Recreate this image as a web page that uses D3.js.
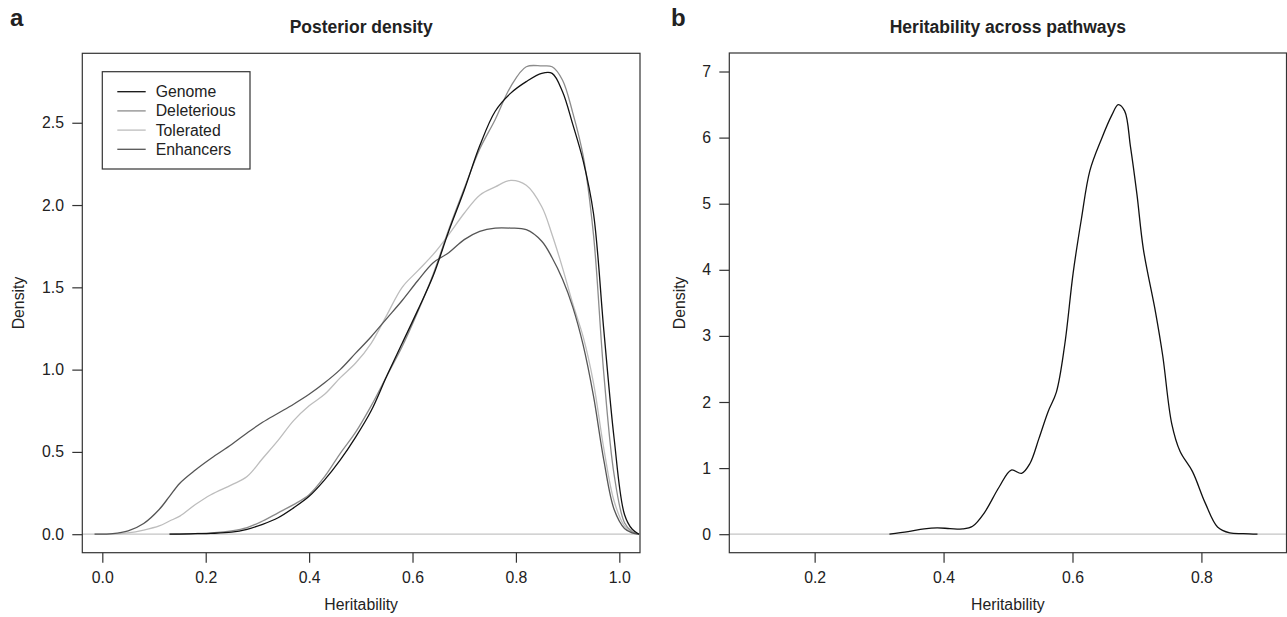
<!DOCTYPE html>
<html>
<head>
<meta charset="utf-8">
<script src="https://cdn.jsdelivr.net/npm/d3@7"></script>
<style>
  body { margin: 0; background: #fff; }
  text { font-family: "Liberation Sans", Arial, Helvetica, sans-serif; fill: #222; }
</style>
</head>
<body>
<div id="d3container"></div>
<script>
// panel a: posterior densities of heritability
var heritX = [-0.015, 0.02, 0.05, 0.08, 0.11, 0.13, 0.15, 0.18, 0.21, 0.25, 0.28, 0.31, 0.34, 0.37, 0.40, 0.43, 0.46, 0.49, 0.52, 0.55,
    0.58, 0.61, 0.64, 0.67, 0.70, 0.73, 0.76, 0.79, 0.82, 0.85, 0.87, 0.89, 0.91, 0.93, 0.95, 0.97, 0.99, 1.01, 1.025, 1.038];
var genome = [null, null, null, null, null, 0, 0.001, 0.003, 0.005, 0.012, 0.03, 0.06, 0.10, 0.16, 0.23, 0.33, 0.45, 0.59, 0.75, 0.96,
    1.16, 1.36, 1.57, 1.84, 2.09, 2.36, 2.57, 2.68, 2.75, 2.80, 2.80, 2.69, 2.49, 2.27, 1.95, 1.24, 0.58, 0.12, 0.03, 0];
var deleterious = [null, null, null, null, null, 0, 0.002, 0.004, 0.008, 0.02, 0.04, 0.08, 0.13, 0.18, 0.24, 0.35, 0.49, 0.62, 0.78, 0.96,
    1.14, 1.35, 1.58, 1.85, 2.10, 2.34, 2.52, 2.72, 2.84, 2.845, 2.84, 2.76, 2.56, 2.30, 1.82, 0.975, 0.36, 0.07, 0.015, 0];
var tolerated = [0, 0.001, 0.008, 0.025, 0.05, 0.08, 0.11, 0.18, 0.24, 0.30, 0.35, 0.46, 0.57, 0.69, 0.78, 0.85, 0.95, 1.04, 1.16, 1.33,
    1.50, 1.60, 1.70, 1.82, 1.95, 2.06, 2.11, 2.15, 2.12, 1.99, 1.82, 1.62, 1.40, 1.20, 0.92, 0.52, 0.20, 0.05, 0.01, 0];
var enhancers = [0, 0.003, 0.02, 0.065, 0.15, 0.23, 0.31, 0.39, 0.46, 0.545, 0.615, 0.68, 0.735, 0.79, 0.85, 0.92, 1.00, 1.10, 1.20, 1.31,
    1.42, 1.54, 1.65, 1.71, 1.79, 1.84, 1.86, 1.86, 1.85, 1.78, 1.68, 1.55, 1.38, 1.15, 0.84, 0.45, 0.15, 0.035, 0.008, 0];
var seriesNames = ['Genome', 'Deleterious', 'Tolerated', 'Enhancers'];
var seriesColors = ['#111111', '#8c8c8c', '#bdbdbd', '#555555'];
var xTicksA = [0, 0.2, 0.4, 0.6, 0.8, 1.0];
var yTicksA = [0, 0.5, 1.0, 1.5, 2.0, 2.5];

// panel b: heritability across pathways
var pathX = [0.316, 0.345, 0.37, 0.39, 0.41, 0.43, 0.445, 0.463, 0.486, 0.505, 0.521, 0.534, 0.548, 0.562, 0.575, 0.588, 0.601, 0.614,
    0.627, 0.645, 0.661, 0.671, 0.681, 0.690, 0.700, 0.710, 0.729, 0.740, 0.754, 0.767, 0.786, 0.806, 0.825, 0.844, 0.865, 0.887];
var pathY = [0, 0.04, 0.08, 0.095, 0.085, 0.08, 0.12, 0.32, 0.71, 0.97, 0.92, 1.07, 1.45, 1.85, 2.15, 2.87, 3.95, 4.78,
    5.50, 5.98, 6.34, 6.50, 6.40, 5.86, 5.14, 4.31, 3.35, 2.70, 1.67, 1.25, 0.95, 0.47, 0.11, 0.02, 0.008, 0];
var xTicksB = [0.2, 0.4, 0.6, 0.8];
var yTicksB = [0, 1, 2, 3, 4, 5, 6, 7];

var svg = d3.select('#d3container').append('svg')
    .attr('width', 1287)
    .attr('height', 617);

svg.append('rect').attr('width', 1287).attr('height', 617).attr('fill', '#fff');

function drawPanel(p) {
    var g = svg.append('g');

    // gray zero line like R's density plot
    g.append('line')
        .attr('x1', p.x.range()[0]).attr('x2', p.x.range()[1])
        .attr('y1', p.y(0)).attr('y2', p.y(0))
        .attr('stroke', '#c4c4c4').attr('stroke-width', 1.2);

    var xAxis = g.append('g')
        .attr('transform', 'translate(0,' + p.y.range()[0] + ')')
        .call(d3.axisBottom(p.x).tickValues(p.xTicks).tickSize(10).tickPadding(9.4).tickFormat(d3.format('.1f')));
    var yAxis = g.append('g')
        .attr('transform', 'translate(' + p.x.range()[0] + ',0)')
        .call(d3.axisLeft(p.y).tickValues(p.yTicks).tickSize(10).tickPadding(8.3).tickFormat(p.yFormat));
    [xAxis, yAxis].forEach(function (a) {
        a.select('.domain').remove();
        a.selectAll('line').attr('stroke', '#333').attr('stroke-width', 1.2);
        a.selectAll('text').attr('font-size', '15.8px').attr('fill', '#222')
            .attr('font-family', '"Liberation Sans", Arial, Helvetica, sans-serif');
    });

    // plot box
    g.append('rect')
        .attr('x', p.x.range()[0]).attr('y', p.y.range()[1])
        .attr('width', p.x.range()[1] - p.x.range()[0])
        .attr('height', p.y.range()[0] - p.y.range()[1])
        .attr('fill', 'none').attr('stroke', '#333').attr('stroke-width', 1.2);

    var cx = (p.x.range()[0] + p.x.range()[1]) / 2;
    var cy = (p.y.range()[0] + p.y.range()[1]) / 2;

    g.append('text').attr('x', cx).attr('y', 32.5)
        .attr('text-anchor', 'middle').attr('font-size', '17.5px').attr('font-weight', 'bold')
        .text(p.title);
    g.append('text').attr('x', p.letterX).attr('y', 26)
        .attr('font-size', '24px').attr('font-weight', 'bold')
        .text(p.letter);
    g.append('text').attr('x', cx).attr('y', 609.5)
        .attr('text-anchor', 'middle').attr('font-size', '15.8px')
        .text('Heritability');
    g.append('text')
        .attr('transform', 'translate(' + p.ylabX + ',' + cy + ') rotate(-90)')
        .attr('text-anchor', 'middle').attr('dy', '0.35em').attr('font-size', '15.8px')
        .text('Density');
    return g;
}

// panel a
var xA = d3.scaleLinear().domain([-0.0387, 1.04]).range([82.3, 640]);
var yA = d3.scaleLinear().domain([-0.1124, 2.922]).range([552.7, 53.3]);
var gA = drawPanel({x: xA, y: yA, xTicks: xTicksA, yTicks: yTicksA, yFormat: d3.format('.1f'),
    title: 'Posterior density', letter: 'a', letterX: 10, ylabX: 18.3});

var lineA = d3.line()
    .defined(function (d) { return d.y !== null; })
    .x(function (d) { return xA(d.x); })
    .y(function (d) { return yA(Math.max(0, d.y)); })
    .curve(d3.curveCatmullRom.alpha(0.5));

var seriesA = [genome, deleterious, tolerated, enhancers];
// draw lighter ones first so black stays on top
[2, 1, 3, 0].forEach(function (i) {
    var pts = heritX.map(function (x, j) { return {x: x, y: seriesA[i][j]}; });
    gA.append('path')
        .attr('fill', 'none')
        .attr('stroke', seriesColors[i])
        .attr('stroke-width', 1.3)
        .attr('d', lineA(pts));
});

// legend
var leg = gA.append('g');
leg.append('rect').attr('x', 102.3).attr('y', 71.7).attr('width', 147.7).attr('height', 97.3)
    .attr('fill', '#fff').attr('stroke', '#333').attr('stroke-width', 1.2);
seriesNames.forEach(function (name, i) {
    var yy = 91.7 + i * 19.2;
    leg.append('line').attr('x1', 117.3).attr('x2', 145.7).attr('y1', yy).attr('y2', yy)
        .attr('stroke', seriesColors[i]).attr('stroke-width', 1.3);
    leg.append('text').attr('x', 155.7).attr('y', yy).attr('dy', '0.35em')
        .attr('font-size', '15.8px').text(name);
});

// panel b
var xB = d3.scaleLinear().domain([0.0676, 0.932]).range([729.3, 1286.5]);
var yB = d3.scaleLinear().domain([-0.28, 7.28]).range([552.7, 53]);
var gB = drawPanel({x: xB, y: yB, xTicks: xTicksB, yTicks: yTicksB, yFormat: d3.format('d'),
    title: 'Heritability across pathways', letter: 'b', letterX: 671, ylabX: 679});

var lineB = d3.line()
    .x(function (d) { return xB(d.x); })
    .y(function (d) { return yB(d.y); })
    .curve(d3.curveCatmullRom.alpha(0.5));

gB.append('path')
    .attr('fill', 'none')
    .attr('stroke', '#111')
    .attr('stroke-width', 1.3)
    .attr('d', lineB(pathX.map(function (x, j) { return {x: x, y: pathY[j]}; })));
</script>
</body>
</html>
